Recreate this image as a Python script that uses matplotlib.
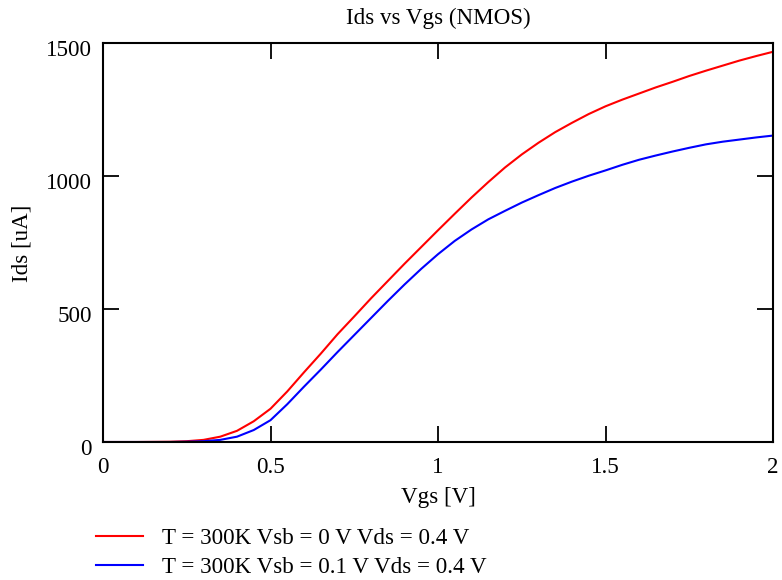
import matplotlib
matplotlib.use("Agg")
import matplotlib.pyplot as plt
import matplotlib.transforms as mtransforms

plt.rcParams['font.family'] = ['Liberation Serif', 'DejaVu Serif']

vgs = [0, 0.1, 0.2, 0.25, 0.3, 0.35, 0.4, 0.45, 0.5, 0.55, 0.6, 0.65, 0.7,
       0.75, 0.8, 0.85, 0.9, 0.95, 1.0, 1.05, 1.1, 1.15, 1.2, 1.25, 1.3,
       1.35, 1.4, 1.45, 1.5, 1.55, 1.6, 1.65, 1.7, 1.75, 1.8, 1.85, 1.9,
       1.95, 2.0]
ids_vsb0 = [0, 0, 1, 3, 8, 20, 42, 78, 125, 190, 262, 332, 405,
            472, 540, 605, 670, 733, 796, 858, 919, 977, 1032, 1081, 1125,
            1165, 1200, 1233, 1262, 1287, 1310, 1333, 1354, 1376, 1396, 1415, 1434,
            1451, 1467]
ids_vsb01 = [0, 0, 0, 1, 3, 8, 20, 45, 82, 142, 208, 272, 338,
             402, 466, 530, 592, 651, 706, 756, 799, 837, 869, 900, 928,
             955, 979, 1001, 1021, 1042, 1061, 1077, 1092, 1106, 1119, 1129, 1137,
             1145, 1152]

labels = ["T = 300K Vsb = 0 V Vds = 0.4 V", "T = 300K Vsb = 0.1 V Vds = 0.4 V"]
colors = ["#ff0000", "#0000ff"]
xticks = [0, 0.5, 1, 1.5, 2]
xticklabels = ["0", "0.5", "1", "1.5", "2"]
yticks = [0, 500, 1000, 1500]
yticklabels = ["0", "500", "1000", "1500"]

W, H = 782, 580
fig = plt.figure(figsize=(W / 100, H / 100), dpi=100)
ax = fig.add_axes([103 / W, 1 - 442 / H, (773 - 103) / W, (442 - 43) / H])

fs = 16.6
for y, lab, c in zip([ids_vsb0, ids_vsb01], labels, colors):
    ax.plot(vgs, y, color=c, lw=1.5, label=lab, solid_joinstyle='round')

ax.set_xlim(0, 2)
ax.set_ylim(0, 1500)
ax.set_xticks(xticks)
ax.set_xticklabels(xticklabels)
ax.set_yticks(yticks)
ax.set_yticklabels(yticklabels)
ax.tick_params(direction='in', length=11.5, width=1.3, labelsize=fs,
               top=True, right=True, color='black')
ax.tick_params(axis='y', pad=8)
ax.tick_params(axis='x', pad=10.5)
for lbl in ax.get_yticklabels():
    lbl.set_transform(lbl.get_transform() + mtransforms.ScaledTranslation(0, -5 / 100, fig.dpi_scale_trans))
for s in ax.spines.values():
    s.set_linewidth(1.5)
    s.set_color('black')

fig.text(438 / W, 1 - 18 / H, "Ids vs Vgs (NMOS)", ha='center', va='center', fontsize=fs)
fig.text(438 / W, 1 - 498 / H, "Vgs [V]", ha='center', va='center', fontsize=fs)
fig.text(22 / W, 1 - 243 / H, "Ids [uA]", ha='center', va='center', rotation=90, fontsize=fs)

fig.legend(loc='upper left', bbox_to_anchor=(96 / W, 1 - 528 / H), frameon=False,
           fontsize=fs, handlelength=2.05, handletextpad=0.8, labelspacing=0.32,
           borderpad=0, borderaxespad=0)

fig.savefig("out.png", dpi=100)
